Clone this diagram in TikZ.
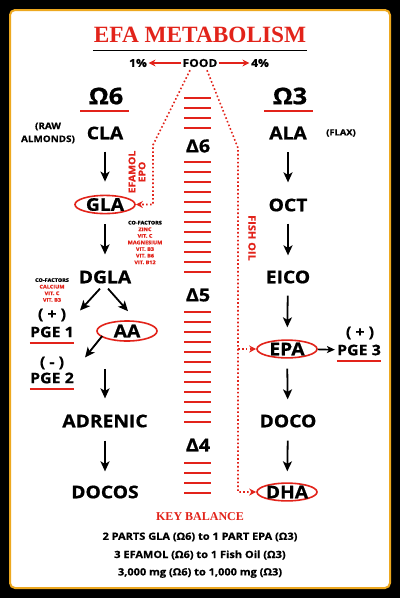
\documentclass[tikz,border=0pt]{standalone}
\usepackage{fontspec}
\setmainfont{Open Sans}[FakeStretch=1.1, BoldFeatures={FakeBold=0.8}]
\newfontfamily\titlefont{Liberation Serif}
\usetikzlibrary{arrows.meta,calc,shapes.geometric}
\definecolor{efared}{HTML}{E2231A}
\definecolor{edgegold}{HTML}{EDA81F}

\begin{document}
\begin{tikzpicture}[
        x=1pt, y=-1pt,
        lbl/.style={inner sep=0pt, font=\bfseries\fontsize{17.5}{20}\selectfont},
        oval/.style={lbl, ellipse, draw=efared, line width=1.6pt,
            minimum width=60pt, minimum height=18pt},
        head/.style={inner sep=0pt, font=\bfseries\fontsize{23}{26}\selectfont},
        delta/.style={inner sep=0pt, font=\bfseries\fontsize{18}{20}\selectfont},
        pge/.style={inner sep=0pt, font=\bfseries\fontsize{14.5}{16}\selectfont},
        note/.style={inner sep=0pt, align=center, font=\bfseries\fontsize{9}{13}\selectfont},
        tiny/.style={inner sep=0pt, align=center, font=\bfseries\fontsize{5}{6.6}\selectfont},
        flow/.style={-{Stealth[length=10pt,width=9pt,inset=2.5pt]}, line width=1.8pt,
            shorten <=12pt, shorten >=15pt},
        feed/.style={efared, line width=1.6pt, dash pattern=on 1.6pt off 2.3pt,
            -{Stealth[length=7pt,width=7pt]}},
        rung/.style={draw=efared, line width=2pt},
    ]

% frame
\fill[black] (0,0) rectangle (400,598);
\draw[edgegold, line width=2pt, fill=white, rounded corners=5pt] (10,10) rectangle (390,588);

% title
\node[inner sep=0pt, text=efared, font=\titlefont\bfseries\fontsize{23.3}{26}\selectfont]
    (title) at (200,34.5) {EFA METABOLISM};
\draw[line width=1.5pt] ($(title.south west)+(-1,8)$) -- ($(title.south east)+(1,8)$);

% food split
\node[inner sep=0pt, font=\bfseries\fontsize{11}{13}\selectfont] (food) at (200,63) {FOOD};
\node[inner sep=0pt, font=\bfseries\fontsize{11}{13}\selectfont] (one) at (138,63) {1\%};
\node[inner sep=0pt, font=\bfseries\fontsize{11}{13}\selectfont] (four) at (260,63) {4\%};
\draw[efared, line width=1.5pt, -{Stealth[length=7pt,width=7pt]}, shorten <=1pt, shorten >=1.5pt] (food) -- (one);
\draw[efared, line width=1.5pt, -{Stealth[length=7pt,width=7pt]}, shorten <=1pt, shorten >=1.5pt] (food) -- (four);

% omega heads
\node[head] (omsix) at (106,96) {Ω6};
\node[head] (omthree) at (290,96) {Ω3};
\draw[rung] ($(omsix.south)+(-26,6)$) -- ($(omsix.south)+(23,6)$);
\draw[rung] ($(omthree.south)+(-26,6)$) -- ($(omthree.south)+(23,6)$);

% delta ladder
\foreach \y in {98,108,...,128} \draw[rung] (184,\y) -- (211,\y);
\foreach \y in {162,172,...,272} \draw[rung] (184,\y) -- (211,\y);
\foreach \y in {312,322,...,422} \draw[rung] (184,\y) -- (211,\y);
\foreach \y in {463,473,...,493} \draw[rung] (184,\y) -- (211,\y);
\node[delta] (dsix) at (198,146) {Δ6};
\node[delta] (dfive) at (198,295) {Δ5};
\node[delta] (dfour) at (198,445) {Δ4};

% omega 6 chain
\node[note] (raw) at (48,133) {(RAW\\ALMONDS)};
\node[lbl] (cla) at (105,133) {CLA};
\node[oval] (gla) at (105,204.5) {GLA};
\node[lbl] (dgla) at (105,277) {DGLA};
\node[oval, minimum height=20pt] (aa) at (127,331) {AA};
\node[pge] (plusone) at (52,315) {( + )};
\node[pge] (pgeone) at (52,332) {PGE 1};
\node[pge] (minustwo) at (52,363) {( - )};
\node[pge] (pgetwo) at (52,378) {PGE 2};
\node[lbl] (adrenic) at (105,421) {ADRENIC};
\node[lbl] (docos) at (105,492) {DOCOS};
\draw[rung] ($(pgeone.south west)+(0,5)$) -- ($(pgeone.south east)+(0,5)$);
\draw[rung] ($(pgetwo.south west)+(0,5)$) -- ($(pgetwo.south east)+(0,5)$);

\node[tiny] (cofgla) at (145,242.5) {CO-FACTORS\\ \textcolor{efared}{ZINC}\\ \textcolor{efared}{VIT. C}\\
    \textcolor{efared}{MAGNESIUM}\\ \textcolor{efared}{VIT. B3}\\ \textcolor{efared}{VIT. B6}\\ \textcolor{efared}{VIT. B12}};
\node[tiny] (cofdgla) at (52,290) {CO-FACTORS\\ \textcolor{efared}{CALCIUM}\\ \textcolor{efared}{VIT. C}\\
    \textcolor{efared}{VIT. B3}};

\draw[flow, shorten >=13pt] (cla) -- (gla);
\draw[flow, shorten <=10pt, shorten >=16pt] (gla) -- (dgla);
\draw[flow, shorten <=0pt, shorten >=0pt] ($(dgla.south)+(-5,5)$) -- ($(pgeone.north)+(28,-16)$);
\draw[flow, shorten <=0pt, shorten >=0pt] ($(dgla.south)+(3,5)$) -- ($(aa.north)+(1,-9)$);
\draw[flow, shorten <=0pt, shorten >=0pt] ($(aa.west)+(6,5)$) -- ($(pgetwo.north)+(33,-15)$);
\draw[flow, shorten <=27pt, shorten >=16pt] (aa.south -| adrenic.north) -- (adrenic.north);
\draw[flow, shorten <=13pt, shorten >=14pt] (adrenic) -- (docos);

% omega 3 chain
\node[lbl] (ala) at (288,133) {ALA};
\node[note, font=\bfseries\fontsize{8.5}{10}\selectfont] (flax) at (341,133) {(FLAX)};
\node[lbl] (oct) at (288,205) {OCT};
\node[lbl] (eico) at (288,277) {EICO};
\node[oval, minimum height=17pt] (epa) at (287,349) {EPA};
\node[pge] (plusthree) at (360,333) {( + )};
\node[pge] (pgethree) at (359,350) {PGE 3};
\draw[rung] ($(pgethree.south west)+(0,5)$) -- ($(pgethree.south east)+(0,5)$);
\node[lbl] (doco) at (288,421) {DOCO};
\node[oval, minimum height=17pt] (dha) at (287,492) {DHA};

\draw[flow, shorten <=13pt, shorten >=16pt] (ala) -- (oct);
\draw[flow] (oct) -- (eico);
\draw[flow, shorten >=12pt] (eico) -- (epa);
\draw[flow, shorten <=10pt] (epa) -- (doco);
\draw[flow, shorten <=13pt, shorten >=11pt] (doco) -- (dha);
\draw[flow, -{Stealth[length=8pt,width=7pt,inset=2pt]}, line width=1.6pt, shorten <=0pt, shorten >=2pt] (epa) -- (pgethree);

% supplements
\coordinate (lbend) at (153,145);
\coordinate (rbend) at (238,148);
\draw[feed] ($(food.south)+(-10,3)$) -- (lbend) |- (gla.east);
\draw[feed] ($(food.south)+(7,3)$) -- (rbend) |- (dha.west);
\draw[feed] (rbend |- epa.west) -- (epa.west);
\node[inner sep=0pt, text=efared, align=center, rotate=90, font=\bfseries\fontsize{9.5}{10}\selectfont]
    (efamol) at (137,172) {EFAMOL\\EPO};
\node[inner sep=0pt, text=efared, rotate=-90, font=\bfseries\fontsize{10}{12}\selectfont]
    (fishoil) at (252,238) {FISH OIL};

% key balance
\node[inner sep=0pt, text=efared, font=\titlefont\bfseries\fontsize{12}{14}\selectfont] (key) at (200,517) {KEY BALANCE};
\node[inner sep=0pt, font=\bfseries\fontsize{10}{12}\selectfont] (ratioa) at (200,537) {2 PARTS GLA (Ω6) to 1 PART EPA (Ω3)};
\node[inner sep=0pt, font=\bfseries\fontsize{10}{12}\selectfont] (ratiob) at (200,555) {3 EFAMOL (Ω6) to 1 Fish Oil (Ω3)};
\node[inner sep=0pt, font=\bfseries\fontsize{10}{12}\selectfont] (ratioc) at (200,573) {3,000 mg (Ω6) to 1,000 mg (Ω3)};
\end{tikzpicture}
\end{document}
